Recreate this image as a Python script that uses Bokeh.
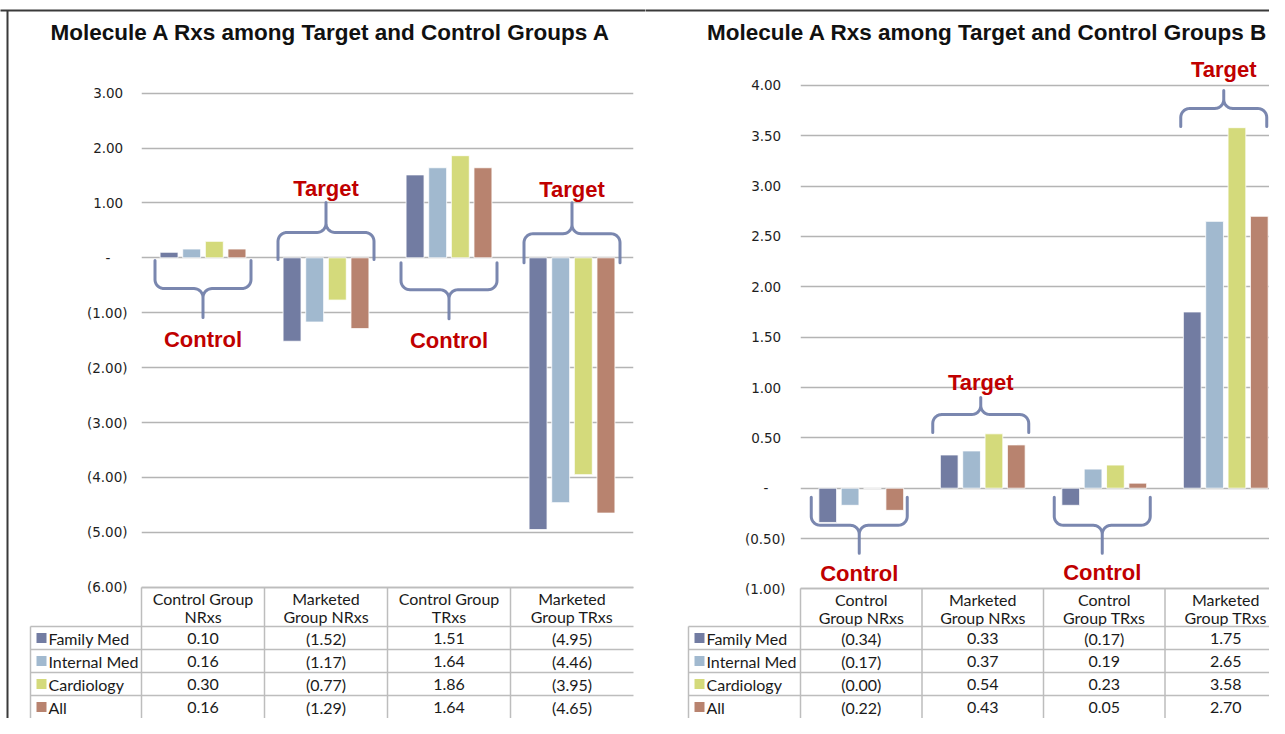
import math
import numpy as np
from bokeh.plotting import figure
from bokeh.models import Range1d, FixedTicker
from bokeh.layouts import row
from bokeh.embed import file_html
from bokeh.resources import INLINE
from bokeh.core.properties import value

# ---------------- data ----------------
series = ["Family Med", "Internal Med", "Cardiology", "All"]
colors = ["#727ca2", "#a1b9cf", "#d4da7b", "#b8836f"]

title_a = "Molecule A Rxs among Target and Control Groups A"
categories_a = ["Control Group\nNRxs", "Marketed\nGroup NRxs", "Control Group\nTRxs", "Marketed\nGroup TRxs"]
family_med_a = [0.10, -1.52, 1.51, -4.95]
internal_med_a = [0.16, -1.17, 1.64, -4.46]
cardiology_a = [0.30, -0.77, 1.86, -3.95]
all_a = [0.16, -1.29, 1.64, -4.65]
yticks_a = [3, 2, 1, 0, -1, -2, -3, -4, -5, -6]
group_labels_a = ["Control", "Target", "Control", "Target"]

title_b = "Molecule A Rxs among Target and Control Groups B"
categories_b = ["Control\nGroup NRxs", "Marketed\nGroup NRxs", "Control\nGroup TRxs", "Marketed\nGroup TRxs"]
family_med_b = [-0.34, 0.33, -0.17, 1.75]
internal_med_b = [-0.17, 0.37, 0.19, 2.65]
cardiology_b = [-0.00, 0.54, 0.23, 3.58]
all_b = [-0.22, 0.43, 0.05, 2.70]
yticks_b = [4, 3.5, 3, 2.5, 2, 1.5, 1, 0.5, 0, -0.5, -1]
group_labels_b = ["Control", "Target", "Control", "Target"]

# ---------------- layout (canvas pixels) ----------------
TOP, BOT = 0, 718
geo_a = dict(canvas_left=0, canvas_w=645, frame_left=141, frame_right=633, zero_y=257.3,
             ppu=54.9, cat_px=123.0, tbl_top=587, hh=39, rh=23, lab_left=30,
             title_cx=330.5, std=14, bdx=0.0)
geo_b = dict(canvas_left=645, canvas_w=624, frame_left=800, frame_right=1269, zero_y=487.7,
             ppu=100.7, cat_px=121.5, tbl_top=588, hh=38, rh=23, lab_left=688,
             title_cx=987, std=15, bdx=-2.0)
# brace annotations: (direction, anchor y in data units, arm px, tip px, label gap px, half width px)
braces_a = [(-1, -0.05, 28, 29, 22, 48), (1, -0.03, 27, 30, 14, 48),
            (-1, -0.09, 27, 29, 22, 48), (1, -0.09, 29, 31, 13, 48)]
braces_b = [(-1, -0.09, 28, 28, 20, 48), (1, 0.553, 18, 17, 15, 48),
            (-1, -0.09, 28, 28, 19, 48), (1, 3.592, 18, 18, 21, 43)]

NBSP = "\u00a0"
TABLE_FONT = value("Lato")
TABLE_SIZE = "16px"


def acct(v):
    neg = math.copysign(1.0, v) < 0
    if v == 0 and not neg:
        return "-"
    s = f"{abs(v):.2f}"
    return f"({s})" if neg else s


def tick_label(v):
    s = acct(v)
    if s == "-":
        return s + NBSP * 4
    if s.startswith("("):
        return s
    return s + NBSP


def brace_path(xc, ya, d, hw, arm, tip, ppx, ppy, r=9.0):
    th1 = np.linspace(np.pi, np.pi / 2, 10)
    th2 = np.linspace(-np.pi / 2, 0, 10)
    left = [(-hw, 0.0)]
    left += [(-hw + r + r * np.cos(t), arm - r + r * np.sin(t)) for t in th1]
    left += [(-r + r * np.cos(t), arm + r + r * np.sin(t)) for t in th2]
    left += [(0.0, arm + tip)]
    right = [(-u, v) for (u, v) in reversed(left)]
    pts = left + right[1:]
    xs = [xc + u / ppx for u, v in pts]
    ys = [ya + d * v / ppy for u, v in pts]
    return xs, ys


def build(title, cats, values, yticks, group_labels, braces, g, left_border):
    ppu, cat_px = g["ppu"], g["cat_px"]
    y0 = (g["zero_y"] - BOT) / ppu
    y1 = (g["zero_y"] - TOP) / ppu
    nvis = (g["frame_right"] - g["frame_left"]) / cat_px
    p = figure(width=g["canvas_w"], height=BOT - TOP, output_backend="svg",
               toolbar_location=None, title=None,
               x_range=Range1d(-0.5, -0.5 + nvis), y_range=Range1d(y0, y1),
               min_border_left=g["frame_left"] - g["canvas_left"],
               min_border_right=g["canvas_left"] + g["canvas_w"] - g["frame_right"],
               min_border_top=0, min_border_bottom=0, x_axis_location=None)
    p.extra_x_ranges = {"px": Range1d(g["frame_left"], g["frame_right"])}
    p.extra_y_ranges = {"py": Range1d(BOT, TOP)}
    p.outline_line_color = None
    p.background_fill_color = "white"
    p.border_fill_color = "white"

    ax = p.yaxis[0]
    ax.ticker = FixedTicker(ticks=yticks)
    ax.major_label_overrides = {t: tick_label(t) for t in yticks}
    ax.axis_line_color = None
    ax.major_tick_line_color = None
    ax.minor_tick_line_color = None
    ax.major_tick_out = 0
    ax.major_tick_in = 0
    ax.major_label_standoff = g["std"]
    ax.major_label_text_font = "DejaVu Sans"
    ax.major_label_text_font_size = "13.5px"
    ax.major_label_text_color = "#1e1e1e"

    p.xgrid.visible = False
    p.ygrid.ticker = FixedTicker(ticks=yticks)
    p.ygrid.grid_line_color = "#b4b4b4"
    p.ygrid.grid_line_width = 1.5

    # bars
    pitch, bw = 0.184, 0.146
    for j, (vals, col) in enumerate(zip(values, colors)):
        xs = [i + (j - 1.5) * pitch for i in range(len(vals))]
        p.vbar(x=xs, width=bw, top=vals, bottom=0, fill_color=col,
               line_color="white", line_width=0.8)

    # braces + group labels
    for ci, ((d, ya, arm, tip, gap, hw), lab) in enumerate(zip(braces, group_labels)):
        xc = ci + g["bdx"] / cat_px
        xs, ys = brace_path(xc, ya, d, hw, arm, tip, cat_px, ppu)
        p.line(xs, ys, line_color="#7381ab", line_width=3, line_join="round",
               line_cap="round", line_alpha=0.95)
        yt = ya + d * (arm + tip + gap) / ppu
        p.text(x=[xc], y=[yt], text=[lab], text_align="center", text_baseline="middle",
               text_font=value("Liberation Sans"), text_font_style="bold",
               text_font_size="22px", text_color="#c00000")

    # title
    p.text(x=[g["title_cx"]], y=[32], text=[title], x_range_name="px", y_range_name="py",
           text_align="center", text_baseline="middle", text_font=value("Liberation Sans"),
           text_font_style="bold", text_font_size="22.5px", text_color="#111111",
           level="annotation")

    # data table
    T0, hh, rh = g["tbl_top"], g["hh"], g["rh"]
    fl = g["frame_left"]
    right_end = fl + 4 * cat_px
    lab_left = g["lab_left"]
    sx0, sy0, sx1, sy1 = [fl], [T0], [right_end], [T0]
    for k in range(4):
        xk = fl + k * cat_px
        sx0.append(xk); sy0.append(T0); sx1.append(xk); sy1.append(BOT)
    for j in range(4):
        yj = T0 + hh + j * rh
        sx0.append(lab_left); sy0.append(yj); sx1.append(right_end); sy1.append(yj)
    sx0.append(lab_left); sy0.append(T0 + hh); sx1.append(lab_left); sy1.append(BOT)
    p.segment(x0=sx0, y0=sy0, x1=sx1, y1=sy1, x_range_name="px", y_range_name="py",
              line_color="#bdbdbd", line_width=1.5, level="annotation")

    hx, hy, ht = [], [], []
    for i, c in enumerate(cats):
        for li, t in enumerate(c.split("\n")):
            hx.append(i); hy.append(T0 + 10.5 + li * 18); ht.append(t)
    p.text(x=hx, y=hy, text=ht, y_range_name="py", text_align="center",
           text_baseline="middle", text_font=TABLE_FONT, text_font_size=TABLE_SIZE,
           text_color="#1a1a1a")

    vx, vy, vt = [], [], []
    for j, vals in enumerate(values):
        yc = T0 + hh + j * rh + rh / 2
        for i, v in enumerate(vals):
            vx.append(i); vy.append(yc); vt.append(acct(v))
    p.text(x=vx, y=vy, text=vt, y_range_name="py", text_align="center",
           text_baseline="middle", text_font=TABLE_FONT, text_font_size=TABLE_SIZE,
           text_color="#1a1a1a")

    rows_y = [T0 + hh + j * rh + rh / 2 for j in range(len(series))]
    # legend keys (short thick segments so they are not culled outside the frame)
    p.segment(x0=[lab_left + 6] * len(series), y0=rows_y, x1=[lab_left + 16] * len(series),
              y1=rows_y, line_color=colors, line_width=10, line_cap="butt",
              x_range_name="px", y_range_name="py", level="annotation")
    p.text(x=[lab_left + 18] * len(series), y=rows_y, text=series, x_range_name="px",
           y_range_name="py", text_align="left", text_baseline="middle",
           text_font=TABLE_FONT, text_font_size=TABLE_SIZE, text_color="#1a1a1a",
           level="annotation")

    # slide frame borders
    bx0 = [g["canvas_left"]]; by0 = [10]; bx1 = [g["canvas_left"] + g["canvas_w"]]; by1 = [10]
    if left_border:
        bx0.append(7); by0.append(10); bx1.append(7); by1.append(BOT)
    p.segment(x0=bx0, y0=by0, x1=bx1, y1=by1, x_range_name="px", y_range_name="py",
              line_color="#3a3a3a", line_width=2, level="annotation")
    return p


pa = build(title_a, categories_a, [family_med_a, internal_med_a, cardiology_a, all_a],
           yticks_a, group_labels_a, braces_a, geo_a, True)
pb = build(title_b, categories_b, [family_med_b, internal_med_b, cardiology_b, all_b],
           yticks_b, group_labels_b, braces_b, geo_b, False)

layout = row(pa, pb)
open("out.html", "w").write(file_html(layout, INLINE))
